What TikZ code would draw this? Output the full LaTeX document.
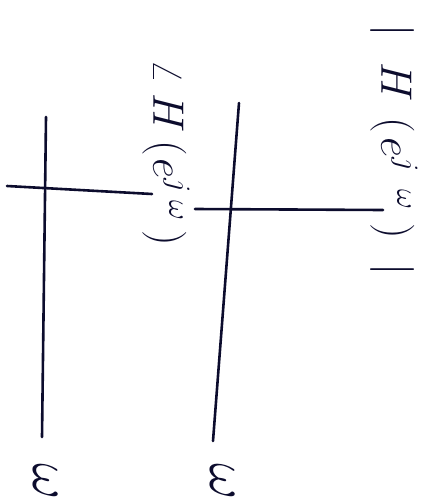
\RequirePackage{fix-cm}
\documentclass[tikz,border=0pt]{standalone}
\definecolor{inkc}{RGB}{12,12,45}
\begin{document}
\begin{tikzpicture}[x=1pt,y=-1pt,
  ink/.style={draw=inkc, line width=2.6pt, line cap=round},
  lbl/.style={text=inkc, rotate=-90, font=\fontsize{44}{50}\selectfont, inner sep=0pt},
  wlbl/.style={text=inkc, rotate=-90, font=\fontsize{56}{60}\selectfont, inner sep=0pt}]
\useasboundingbox (0,0) rectangle (441,504);
% left axes
\coordinate (Ltop) at (46,117);
\coordinate (Lbot) at (42,437);
\coordinate (Lleft) at (7,186);
\coordinate (Lright) at (152,194);
\draw[ink] (Ltop) -- (Lbot);
\draw[ink] (Lleft) -- (Lright);
% right axes
\coordinate (Rtop) at (239,103);
\coordinate (Rbot) at (213,441);
\coordinate (Rleft) at (195,209);
\coordinate (Rright) at (383,210);
\draw[ink] (Rtop) -- (Rbot);
\draw[ink] (Rleft) -- (Rright);
% labels
\node[lbl] (phase) at (166,153) {$\angle\kern10pt H\kern8pt(\kern2pt e^{j\kern8pt\omega}\kern10pt)$};
\node[lbl] (mag) at (394,150) {$|\kern26pt H\kern16pt(\kern4pt e^{j\kern18pt\omega}\kern14pt)\kern24pt|$};
\node[wlbl] (w1) at (46,482) {$\omega$};
\node[wlbl] (w2) at (223,482) {$\omega$};
\end{tikzpicture}
\end{document}
